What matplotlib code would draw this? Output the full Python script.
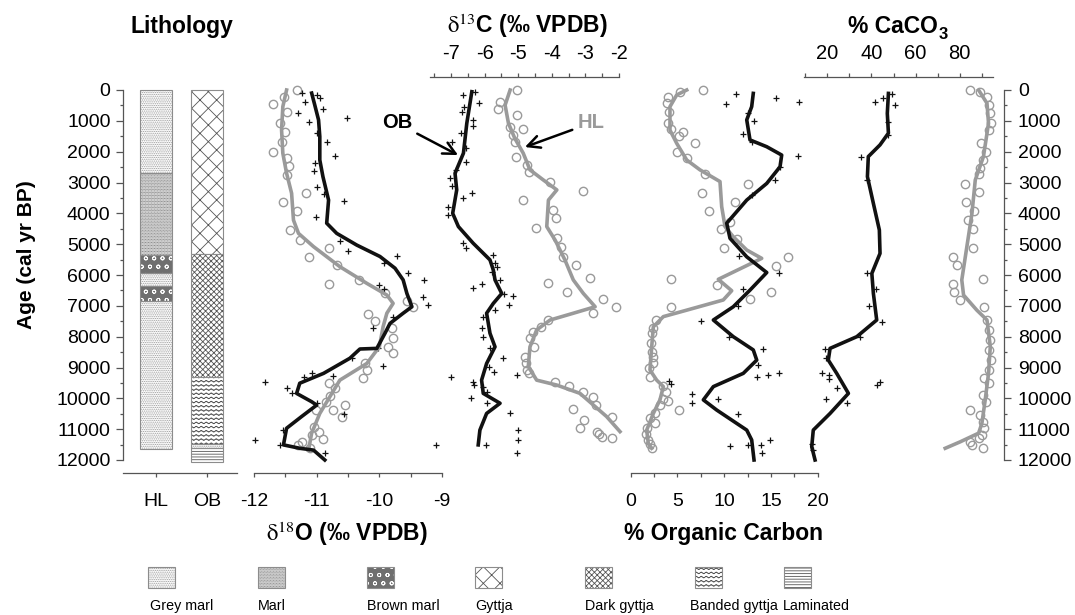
import warnings
warnings.filterwarnings('ignore')
import numpy as np
import matplotlib
matplotlib.use('Agg')
import matplotlib.pyplot as plt
import matplotlib.hatch as mhatch
from matplotlib.path import Path
from matplotlib.patches import Rectangle

plt.rcParams['font.family'] = ['Liberation Sans', 'DejaVu Sans']
plt.rcParams['mathtext.fontset'] = 'stix'
plt.rcParams['hatch.linewidth'] = 0.6

# ---------------- data ----------------
AGE_MIN, AGE_MAX = 0, 12000
age_ticks = list(range(0, 12001, 1000))
age_minor = list(range(500, 12000, 1000))

cores = ['HL', 'OB']
HL_units = ['Grey marl', 'Marl', 'Brown marl', 'Grey marl', 'Brown marl', 'Grey marl']
HL_top = [0, 2700, 5350, 5950, 6350, 6830]
HL_base = [2700, 5350, 5950, 6350, 6830, 11650]
OB_units = ['Gyttja', 'Dark gyttja', 'Banded gyttja', 'Grey marl', 'Laminated']
OB_top = [0, 5320, 9300, 11480, 11620]
OB_base = [5320, 9300, 11480, 11620, 12050]
legend_units = ['Grey marl', 'Marl', 'Brown marl', 'Gyttja', 'Dark gyttja',
                'Banded gyttja', 'Laminated']

# d18O (age, value)
d18O_HL_line = [(0, -11.48), (540, -11.54), (1300, -11.56), (2050, -11.54), (2700, -11.48),
                (3350, -11.40), (4220, -11.37), (4650, -11.29), (5080, -11.05), (5730, -10.63),
                (6270, -10.20), (6650, -9.88), (6920, -9.78), (7240, -9.88), (7680, -9.94),
                (8330, -10.00), (8870, -10.20), (9410, -10.63), (9950, -10.79), (10490, -10.95),
                (11130, -11.08), (11680, -11.13)]
d18O_OB_line = [(100, -11.08), (490, -11.03), (970, -10.97), (1510, -10.95), (2270, -10.95),
                (2810, -10.90), (3570, -10.81), (4320, -10.84), (4650, -10.68), (5030, -10.36),
                (5400, -9.99), (5780, -9.75), (6160, -9.62), (6600, -9.56), (7030, -9.48),
                (7240, -9.62), (7570, -9.83), (7890, -9.91), (8380, -10.04), (8400, -10.31),
                (8700, -10.47), (9190, -10.89), (9510, -11.27), (9840, -11.32), (10110, -11.08),
                (10220, -11.00), (10590, -11.24), (10970, -11.48), (11510, -11.53),
                (11620, -11.27), (11680, -11.05), (12000, -10.87)]
d18O_HL_pts = [(0, -11.32), (220, -11.52), (450, -11.69), (700, -11.48), (1080, -11.59),
               (1350, -11.51), (1680, -11.56), (2000, -11.69), (2220, -11.48), (2470, -11.44),
               (2760, -11.48), (3330, -11.17), (3620, -11.53), (3920, -11.31), (4540, -11.43),
               (4870, -11.27), (5430, -11.13), (5140, -10.80), (5680, -10.68), (6300, -10.80),
               (6160, -10.32), (6570, -9.91), (6830, -9.56), (7050, -9.47), (7280, -10.18),
               (7480, -10.07), (7730, -9.80), (8050, -9.78), (8330, -9.86), (8540, -9.78),
               (8870, -10.23), (9080, -10.20), (9330, -10.26), (9510, -10.80), (9680, -10.71),
               (9920, -10.79), (10110, -10.85), (10220, -10.55), (10380, -10.74), (10380, -11.01),
               (10620, -10.60), (10920, -11.05), (11080, -10.96), (11190, -11.08), (11330, -10.90),
               (11410, -11.24), (11510, -11.29), (11600, -11.11)]
d18O_OB_pts = [(110, -11.24), (160, -11.00), (270, -10.95), (380, -11.18), (600, -10.90),
               (760, -11.29), (1030, -11.12), (900, -10.52), (1400, -10.99), (1680, -10.84),
               (2140, -10.71), (2380, -11.03), (2620, -11.04), (3140, -10.99), (3370, -10.88),
               (3590, -10.57), (4110, -11.01), (4900, -10.63), (5210, -10.50), (5380, -9.72),
               (5620, -9.93), (5920, -9.54), (6160, -9.28), (6320, -10.00), (6470, -9.93),
               (6700, -9.31), (6970, -9.22), (7350, -9.78), (7730, -10.10), (8380, -10.02),
               (8950, -9.94), (8700, -10.44), (9280, -10.74), (9190, -11.08), (9320, -11.21),
               (9460, -11.82), (9680, -11.48), (9840, -11.40), (10160, -11.00), (10520, -10.56),
               (11030, -11.53), (11350, -11.98), (11510, -11.59), (11760, -10.87)]

# d13C (age, value)
d13C_OB_line = [(55, -6.38), (1080, -6.53), (2050, -6.63), (2700, -6.88), (3240, -6.83),
                (4000, -6.95), (4430, -6.78), (4970, -6.34), (5510, -5.84), (5840, -5.74),
                (6160, -5.69), (6600, -5.49), (6920, -5.74), (7240, -5.94), (7890, -5.84),
                (8330, -5.69), (8870, -5.94), (9410, -6.09), (9840, -6.04), (10160, -5.54),
                (10490, -5.94), (11030, -6.14), (11510, -6.19)]
d13C_HL_line = [(0, -5.24), (490, -5.39), (1080, -5.29), (1570, -5.10), (2050, -4.85),
                (2590, -4.65), (2920, -4.25), (3240, -3.85), (3570, -4.10), (4430, -4.15),
                (4870, -3.90), (5510, -3.61), (6160, -3.36), (6600, -3.06), (7030, -2.71),
                (7240, -3.36), (7460, -4.05), (7780, -4.45), (8330, -4.65), (8970, -4.70),
                (9410, -4.45), (9570, -3.85), (9840, -3.16), (10220, -2.76), (10590, -2.37),
                (11080, -1.97)]
d13C_HL_pts = [(0, -5.04), (380, -5.54), (600, -5.59), (810, -5.03), (1280, -4.85), (1190, -5.24),
               (1460, -5.14), (1680, -5.10), (2160, -5.07), (2430, -4.73), (2650, -4.67),
               (2970, -4.05), (3280, -3.06), (3570, -4.87), (3890, -3.96), (4160, -3.88),
               (4490, -4.47), (4810, -3.84), (5080, -3.73), (5410, -3.66), (5680, -3.28),
               (6110, -2.86), (6270, -4.10), (6540, -3.54), (6790, -2.48), (7030, -2.10),
               (7240, -2.78), (7460, -4.10), (7680, -4.33), (7840, -4.55), (8050, -4.65),
               (8320, -4.52), (8650, -4.80), (8870, -4.77), (9080, -4.73), (9190, -4.67),
               (9460, -3.90), (9600, -3.48), (9780, -3.06), (9950, -2.76), (10220, -2.68),
               (10360, -3.38), (10700, -3.03), (10970, -3.16), (10590, -2.22), (11080, -2.66),
               (11160, -2.61), (11240, -2.51), (11300, -2.22)]
d13C_OB_pts = [(160, -6.63), (55, -6.29), (410, -6.16), (540, -6.61), (700, -6.68), (970, -6.35),
               (1170, -6.34), (1380, -6.71), (1680, -6.98), (1890, -6.55), (2320, -6.55),
               (2590, -6.85), (2870, -7.03), (3110, -6.98), (3350, -6.38), (3510, -6.65),
               (3810, -7.08), (4050, -7.08), (4970, -6.63), (5140, -6.55), (5350, -5.74),
               (5620, -5.69), (5730, -5.64), (5890, -5.79), (6290, -6.09), (6430, -6.35),
               (6160, -5.54), (6600, -5.42), (6680, -5.16), (6970, -5.26), (7140, -5.69),
               (7350, -6.06), (7730, -6.09), (8000, -6.06), (8380, -5.84), (8700, -5.44),
               (8970, -5.86), (9140, -5.72), (9300, -7.00), (9460, -6.35), (9570, -6.31),
               (9240, -5.03), (9620, -6.04), (9780, -5.94), (10000, -6.41), (10160, -5.94),
               (10490, -5.24), (11030, -5.00), (11350, -5.00), (11760, -5.03), (11510, -5.96),
               (11510, -7.45)]

# % organic carbon (age, value)
OC_OB_line = [(110, 13.11), (540, 12.94), (970, 12.41), (1620, 12.76), (1840, 14.55),
              (2110, 16.15), (2490, 15.97), (3030, 14.55), (3570, 12.41), (4320, 10.27),
              (4810, 10.62), (5410, 12.41), (5920, 14.55), (6490, 12.76), (7030, 10.97),
              (7460, 8.84), (8000, 10.97), (8430, 13.11), (8760, 13.48), (9190, 12.04),
              (9620, 8.84), (10050, 7.77), (10380, 9.20), (11030, 12.41), (11350, 12.94),
              (12000, 13.19)]
OC_HL_line = [(0, 5.99), (160, 4.92), (540, 4.20), (1300, 4.20), (1730, 4.92), (2270, 5.99),
              (2590, 7.41), (2970, 9.55), (3780, 9.73), (4430, 10.09), (4760, 10.97),
              (5190, 12.41), (5460, 14.01), (6140, 9.37), (6510, 10.80), (6810, 9.90),
              (7140, 5.99), (7350, 3.49), (7680, 2.42), (8320, 2.25), (9080, 2.06), (9410, 2.78),
              (9620, 3.49), (10050, 3.13), (10490, 2.42), (11030, 1.71), (11460, 1.88),
              (11620, 2.25)]
OC_HL_pts = [(0, 7.77), (55, 5.27), (220, 4.02), (430, 3.85), (700, 4.13), (1080, 4.02),
             (1280, 4.28), (1350, 5.56), (1490, 5.20), (1730, 6.88), (2000, 4.98), (2220, 6.05),
             (2720, 7.95), (3050, 12.58), (3330, 7.59), (3620, 11.15), (3910, 8.41), (4270, 10.62),
             (4520, 9.63), (4840, 11.34), (5140, 9.98), (5430, 16.86), (5710, 15.54), (6320, 9.26),
             (6540, 14.97), (6790, 12.76), (6140, 4.28), (7050, 4.28), (7460, 2.71), (7730, 2.42),
             (7890, 2.25), (8220, 2.14), (8490, 2.25), (8650, 2.35), (8870, 2.42), (9030, 1.99),
             (9300, 2.06), (9600, 3.49), (9780, 3.78), (10080, 4.02), (10030, 3.42), (10220, 3.13),
             (10380, 5.20), (10490, 2.60), (10650, 2.06), (10810, 2.60), (10970, 1.71),
             (11160, 1.64), (11350, 1.88), (11480, 2.06), (11620, 2.25)]
OC_OB_pts = [(130, 11.26), (450, 10.19), (270, 15.54), (380, 18.03), (760, 12.58), (1000, 13.19),
             (1430, 11.98), (1680, 12.94), (2140, 17.86), (2510, 15.97), (2920, 15.43),
             (3400, 12.94), (5370, 11.61), (5920, 15.86), (6470, 11.98), (6990, 11.51),
             (7480, 7.52), (8020, 10.55), (8410, 14.18), (8920, 13.65), (9320, 13.48),
             (9240, 14.72), (9190, 15.86), (10030, 9.37), (9860, 6.52), (10160, 6.52),
             (9440, 4.10), (9540, 4.28), (10520, 11.51), (11550, 10.62), (11510, 12.58),
             (11510, 13.90), (11350, 14.90), (11760, 14.08)]

# % CaCO3 (age, value)
Ca_OB_line = [(110, 47.7), (760, 47.2), (1400, 47.7), (1780, 43.9), (2160, 38.6), (2810, 38.2),
              (3680, 40.9), (4540, 43.6), (5300, 43.9), (5950, 40.2), (6600, 40.9), (7460, 42.4),
              (8000, 33.4), (8380, 21.3), (8760, 20.5), (9190, 24.3), (9840, 29.6), (10490, 21.3),
              (11030, 13.7), (11570, 13.0), (12000, 14.5)]
Ca_OB_pts = [(380, 41.7), (270, 45.4), (130, 49.2), (490, 50.7), (1030, 47.4), (1460, 47.7),
             (2160, 35.3), (2920, 37.9), (5920, 38.2), (6470, 42.1), (7000, 39.1), (7510, 44.7),
             (8000, 34.9), (8410, 19.0), (8700, 19.5), (9190, 17.5), (9240, 21.0), (9380, 21.0),
             (9680, 24.3), (9570, 42.4), (9460, 43.9), (10030, 19.5), (10160, 28.8),
             (11480, 13.0), (11680, 13.5)]
Ca_HL_line = [(0, 88.5), (430, 92.3), (1080, 93.0), (2160, 90.7), (2920, 87.0), (4000, 85.5),
              (5080, 83.2), (6160, 80.9), (6650, 81.7), (7140, 87.7), (7460, 92.3), (8320, 93.8),
              (9190, 93.0), (10050, 91.5), (10810, 90.0), (11130, 88.5), (11410, 80.2),
              (11620, 73.4)]
Ca_HL_pts = [(0, 84.7), (55, 89.2), (240, 92.5), (490, 93.4), (740, 93.8), (1080, 94.1),
             (1300, 93.0), (1710, 89.7), (2000, 91.9), (2270, 90.4), (2540, 89.2), (2720, 88.8),
             (3050, 82.4), (3300, 88.5), (3620, 82.9), (3910, 86.5), (4220, 83.5), (4520, 85.9),
             (5140, 85.9), (5430, 76.9), (5680, 78.7), (6140, 90.7), (6290, 76.9), (6540, 77.4),
             (6810, 80.2), (7050, 91.0), (7460, 92.5), (7780, 93.4), (8110, 93.8), (8430, 93.4),
             (8760, 94.1), (9080, 93.0), (9350, 91.0), (9510, 93.4), (9890, 90.4), (10110, 91.9),
             (10380, 84.7), (10540, 89.2), (10760, 90.7), (10970, 91.0), (11190, 90.0),
             (11300, 88.9), (11410, 84.4), (11510, 85.5), (11620, 90.4)]


# ---------------- custom wavy hatch for banded gyttja ----------------
class WaveHatch(mhatch.HatchPatternBase):
    def __init__(self, hatch, density):
        self.num_lines = int(hatch.count('~') * density)
        self.nseg = 160
        self.num_vertices = self.num_lines * (self.nseg + 1)

    def set_vertices_and_codes(self, vertices, codes):
        t = np.linspace(0.0, 1.0, self.nseg + 1)
        n = self.nseg + 1
        for i in range(self.num_lines):
            y0 = (i + 0.5) / self.num_lines
            vertices[i * n:(i + 1) * n, 0] = t
            vertices[i * n:(i + 1) * n, 1] = y0 + 0.008 * np.sin(2 * np.pi * 20 * t)
            codes[i * n] = Path.MOVETO
            codes[i * n + 1:(i + 1) * n] = Path.LINETO


mhatch._hatch_types.append(WaveHatch)

# unit -> (face, hatch, hatch colour)
STYLES = {
    'Grey marl': ('white', '.' * 9, '#9a9a9a'),
    'Marl': ('#f0f0f0', '.' * 11, '#6e6e6e'),
    'Brown marl': ('#6f6f6f', 'oo', 'white'),
    'Gyttja': ('white', 'xx', '#555555'),
    'Dark gyttja': ('white', 'x' * 6, '#555555'),
    'Banded gyttja': ('white', '~~~~', '#444444'),
    'Laminated': ('white', '------', '#555555'),
}
OUT = '#8c8c8c'
AXC = '#555555'
BLACK = '#111111'
GREY = '#9a9a9a'

W, H = 1075, 615
Y0, Y1 = 90, 460

fig = plt.figure(figsize=(W / 100, H / 100), dpi=100)


def panel(x0, x1):
    ax = fig.add_axes([x0 / W, 1 - Y1 / H, (x1 - x0) / W, (Y1 - Y0) / H])
    ax.patch.set_visible(False)
    for s in ax.spines.values():
        s.set_visible(False)
    ax.set_ylim(AGE_MAX, AGE_MIN)
    ax.tick_params(which='both', left=False, labelleft=False, bottom=False,
                   labelbottom=False, top=False, labeltop=False, right=False,
                   labelright=False)
    return ax


def xaxis_style(ax, side, ticks, labels, bounds=None, pad=11.5, size=14):
    sp = ax.spines[side]
    sp.set_visible(True)
    sp.set_position(('outward', 9.4))
    sp.set_color(AXC)
    sp.set_linewidth(0.9)
    if bounds is not None:
        sp.set_bounds(*bounds)
    ax.xaxis.set_ticks_position(side)
    ax.set_xticks(ticks)
    ax.set_xticklabels(labels)
    kw = {side: True, 'label' + side: True}
    ax.tick_params(axis='x', which='major', direction='out', length=3, width=0.9,
                   color=AXC, pad=pad, labelsize=size, **kw)


def age_axis(ax, side):
    sp = ax.spines[side]
    sp.set_visible(True)
    sp.set_color(AXC)
    sp.set_linewidth(0.9)
    ax.set_yticks(age_ticks)
    ax.set_yticks(age_minor, minor=True)
    ax.tick_params(axis='y', which='major', direction='out', length=5, width=0.9,
                   color=AXC, labelsize=14, pad=4 if side == 'left' else 5,
                   **{side: True, 'label' + side: True})
    ax.tick_params(axis='y', which='minor', direction='out', length=2.5, width=0.9,
                   color=AXC, **{side: True})


def split(pairs):
    a = [p[0] for p in pairs]
    v = [p[1] for p in pairs]
    return a, v


def line(ax, pairs, color):
    a, v = split(pairs)
    ax.plot(v, a, color=color, lw=2.6, solid_joinstyle='round', clip_on=False, zorder=4)


def circles(ax, pairs):
    a, v = split(pairs)
    ax.plot(v, a, 'o', mfc='none', mec=GREY, ms=6, mew=1.0, clip_on=False, zorder=3)


def crosses(ax, pairs):
    a, v = split(pairs)
    ax.plot(v, a, '+', color=BLACK, ms=5, mew=0.9, clip_on=False, zorder=3)


# ---------------- lithology ----------------
ax_l = panel(123, 237)
ax_l.set_xlim(0.353, 2.588)
BW = 0.627
for xi, (units, tops, bases) in enumerate([(HL_units, HL_top, HL_base),
                                           (OB_units, OB_top, OB_base)], start=1):
    for u, t, b in zip(units, tops, bases):
        face, hatch, hc = STYLES[u]
        ax_l.bar(xi, b - t, bottom=t, width=BW, color=face, hatch=hatch,
                 edgecolor=hc, linewidth=0, clip_on=False)
        ax_l.bar(xi, b - t, bottom=t, width=BW, fill=False, edgecolor=OUT,
                 linewidth=0.8, clip_on=False)
xaxis_style(ax_l, 'bottom', [1, 2], cores)
age_axis(ax_l, 'left')

# ---------------- d18O ----------------
ax_o = panel(254, 442)
ax_o.set_xlim(-12, -9)
circles(ax_o, d18O_HL_pts)
crosses(ax_o, d18O_OB_pts)
line(ax_o, d18O_HL_line, GREY)
line(ax_o, d18O_OB_line, BLACK)
o_ticks = [-12, -11.5, -11, -10.5, -10, -9.5, -9]
xaxis_style(ax_o, 'bottom', o_ticks,
            ['%d' % t if t == int(t) else '' for t in o_ticks])

# ---------------- d13C ----------------
ax_c = panel(420, 625)
ax_c.set_xlim(-7 - 31 / 33.6, -2 + 6 / 33.6)
circles(ax_c, d13C_HL_pts)
crosses(ax_c, d13C_OB_pts)
line(ax_c, d13C_HL_line, GREY)
line(ax_c, d13C_OB_line, BLACK)
c_ticks = [-7.5, -7, -6.5, -6, -5.5, -5, -4.5, -4, -3.5, -3, -2.5, -2]
xaxis_style(ax_c, 'top', c_ticks,
            ['%d' % t if t == int(t) else '' for t in c_ticks],
            bounds=(-7.62, -2), pad=7, size=14.5)
ax_c.annotate('OB', xy=(-6.79, 2110), xytext=(-8.61, 1070), ha='center', va='center',
              fontsize=14.5, fontweight='bold', color='black', annotation_clip=False,
              arrowprops=dict(arrowstyle='->', color='black', lw=1.8,
                              mutation_scale=22, shrinkA=2, shrinkB=0))
ax_c.annotate('HL', xy=(-4.80, 1850), xytext=(-2.83, 1070), ha='center', va='center',
              fontsize=14.5, fontweight='bold', color=GREY, annotation_clip=False,
              arrowprops=dict(arrowstyle='->', color='black', lw=1.8,
                              mutation_scale=22, shrinkA=2, shrinkB=0))

# ---------------- organic carbon ----------------
ax_oc = panel(630.7, 817.7)
ax_oc.set_xlim(0, 20)
circles(ax_oc, OC_HL_pts)
crosses(ax_oc, OC_OB_pts)
line(ax_oc, OC_HL_line, GREY)
line(ax_oc, OC_OB_line, BLACK)
oc_ticks = [0, 2.5, 5, 7.5, 10, 12.5, 15, 17.5, 20]
xaxis_style(ax_oc, 'bottom', oc_ticks,
            ['%d' % t if t == int(t) else '' for t in oc_ticks])

# ---------------- CaCO3 ----------------
ax_ca = panel(783, 1004)
ax_ca.set_xlim(0, 100)
circles(ax_ca, Ca_HL_pts)
crosses(ax_ca, Ca_OB_pts)
line(ax_ca, Ca_HL_line, GREY)
line(ax_ca, Ca_OB_line, BLACK)
ca_ticks = [10, 20, 30, 40, 50, 60, 70, 80, 90]
xaxis_style(ax_ca, 'top', ca_ticks,
            ['%d' % t if t % 20 == 0 else '' for t in ca_ticks],
            bounds=(9.6, 94.8), pad=7, size=14.5)
age_axis(ax_ca, 'right')

# ---------------- titles / axis labels ----------------
fig.text(182 / W, 1 - 33 / H, 'Lithology', ha='center', va='baseline',
         fontsize=16.5, fontweight='bold')
fig.text(527 / W, 1 - 32.5 / H, r'$\mathrm{\delta}^{13}$C (‰ VPDB)', ha='center',
         va='baseline', fontsize=16.5, fontweight='bold')
t_ca = fig.text(893 / W, 1 - 33 / H, '% CaCO', ha='center', va='baseline',
                fontsize=16.5, fontweight='bold')
ax_ca.annotate('3', xy=(1.0, 0.0), xycoords=t_ca, xytext=(0.5, -1),
               textcoords='offset points', ha='left', va='baseline',
               fontsize=12, fontweight='bold', annotation_clip=False)
fig.text(347 / W, 1 - 541 / H, r'$\mathrm{\delta}^{18}$O (‰ VPDB)', ha='center',
         va='baseline', fontsize=16.5, fontweight='bold')
fig.text(724 / W, 1 - 540 / H, '% Organic Carbon', ha='center', va='baseline',
         fontsize=16.5, fontweight='bold')
fig.text(27 / W, 1 - 255 / H, 'Age (cal yr BP)', ha='center', va='center',
         rotation=90, fontsize=15, fontweight='bold')

# ---------------- legend ----------------
leg_patch_x = [148, 258, 367, 475, 585, 695, 784]
leg_label_x = [150, 258, 367, 475, 585, 690, 783]
for u, px, lx in zip(legend_units, leg_patch_x, leg_label_x):
    face, hatch, hc = STYLES[u]
    xy = (px / W, 1 - 588 / H)
    w, h = 27 / W, 21 / H
    fig.add_artist(Rectangle(xy, w, h, transform=fig.transFigure, facecolor=face,
                             hatch=hatch, edgecolor=hc, linewidth=0))
    fig.add_artist(Rectangle(xy, w, h, transform=fig.transFigure, fill=False,
                             edgecolor=OUT, linewidth=0.8))
    fig.text(lx / W, 1 - 610 / H, u, ha='left', va='baseline', fontsize=10.3)

fig.savefig('out.png', dpi=100)
